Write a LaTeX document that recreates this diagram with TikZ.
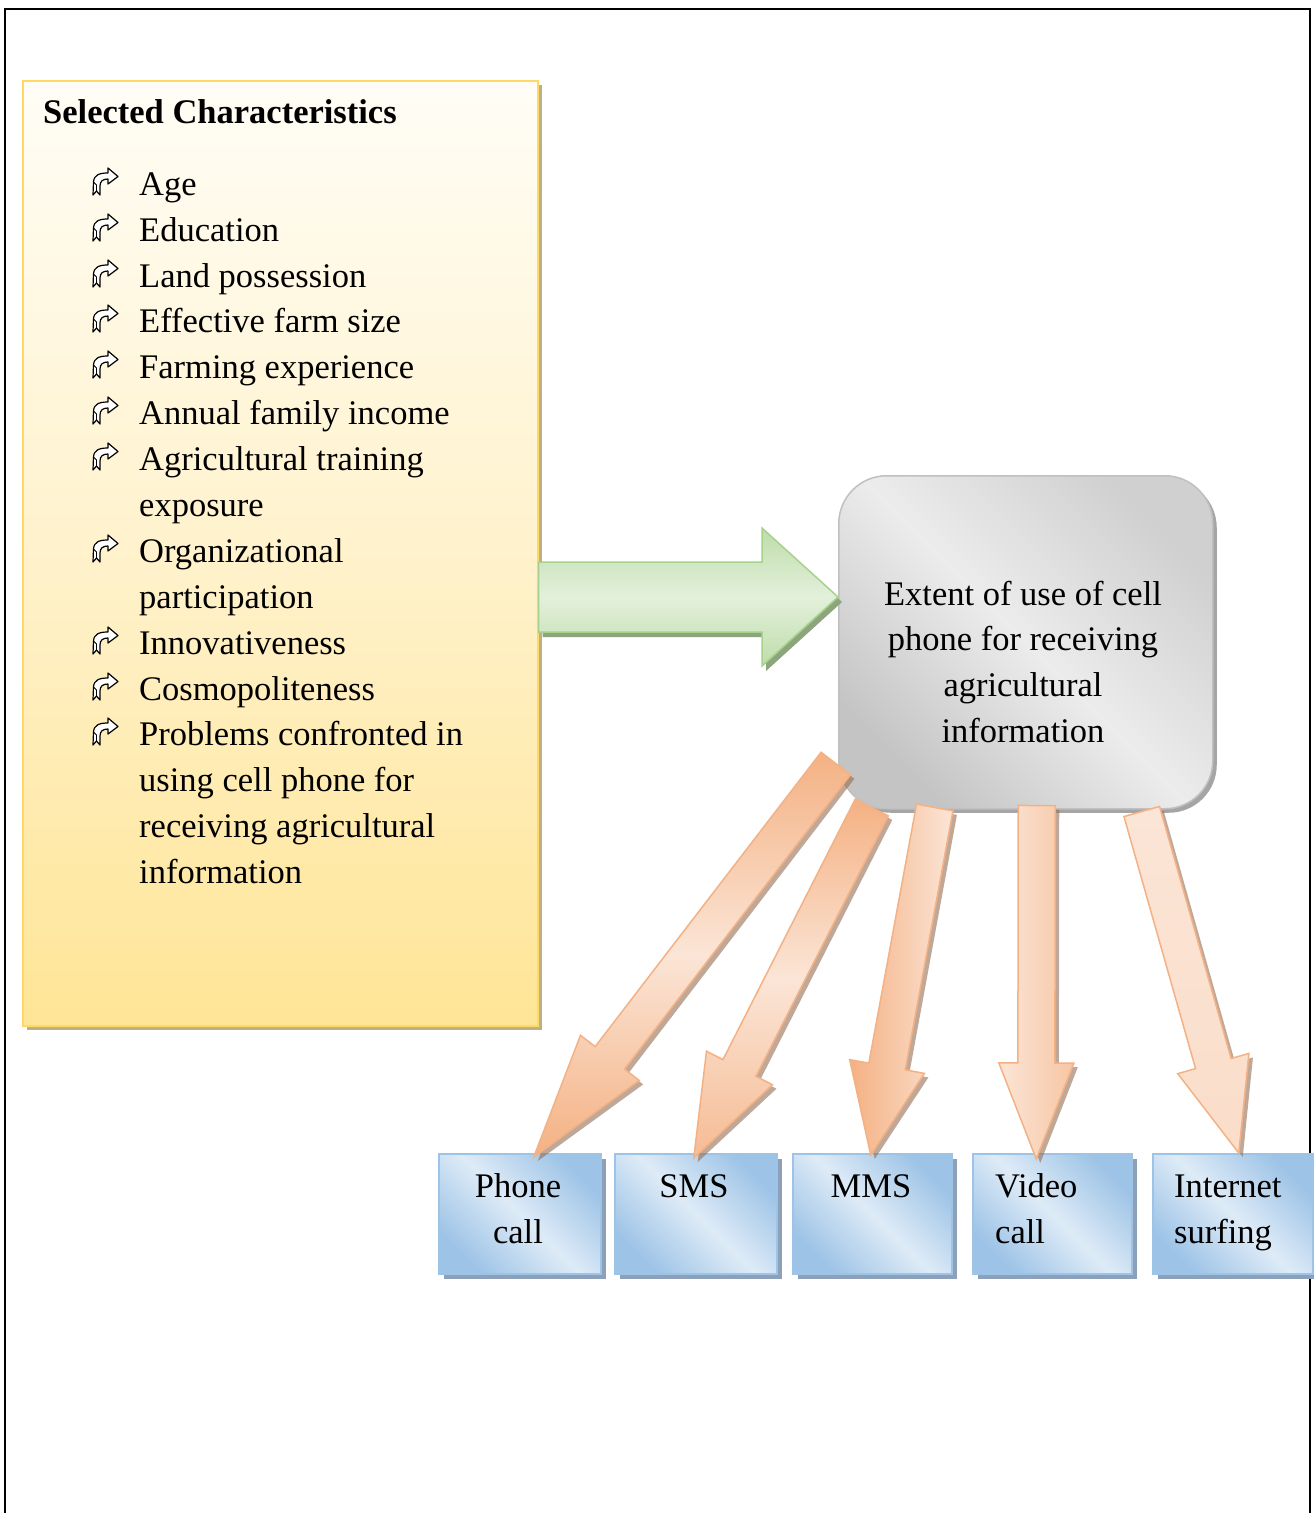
\documentclass[tikz,border=0pt]{standalone}
\usepackage{fontspec}
\setmainfont{Liberation Serif}
\usetikzlibrary{calc,shadows}
\definecolor{ylw}{RGB}{255,229,150}
\definecolor{ylwmid}{RGB}{255,242,204}
\definecolor{ylwtop}{RGB}{255,253,246}
\definecolor{ylwbd}{RGB}{255,217,102}
\definecolor{ylwsh}{RGB}{191,176,128}
\definecolor{grn}{RGB}{190,221,170}
\definecolor{grnl}{RGB}{227,240,219}
\definecolor{grnbd}{RGB}{169,209,142}
\definecolor{grnsh}{RGB}{140,165,125}
\definecolor{gry1}{RGB}{196,196,196}
\definecolor{gry2}{RGB}{236,236,236}
\definecolor{gry3}{RGB}{208,208,208}
\definecolor{grybd}{RGB}{192,192,192}
\definecolor{grysh}{RGB}{165,165,165}
\definecolor{org}{RGB}{244,177,131}
\definecolor{orgl}{RGB}{251,229,214}
\definecolor{orgsh}{RGB}{150,110,85}
\definecolor{blu}{RGB}{157,195,230}
\definecolor{blul}{RGB}{222,235,247}
\definecolor{blush}{RGB}{140,160,185}
\newcommand\fatarrow[6]{%
  \coordinate (hb) at ($(#3)!#4!(#2)$);
  \path[#1] ($(#2)!#5!90:(#3)$) -- ($(hb)!#5!90:(#3)$) -- ($(hb)!#6!90:(#3)$) -- (#3)
    -- ($(hb)!#6!-90:(#3)$) -- ($(hb)!#5!-90:(#3)$) -- ($(#2)!#5!-90:(#3)$) -- cycle;}
\tikzset{
  txt/.style={font=\fontsize{34.5}{46}\selectfont, inner sep=0pt},
  ybox/.style={draw=ylwbd, line width=1.5pt, inner sep=0pt,
    top color=ylwtop, bottom color=ylw, middle color=ylwmid,
    drop shadow={shadow xshift=4pt, shadow yshift=-4pt, fill=ylwsh, opacity=1}},
  gbox/.style={draw=grybd, line width=1.5pt, inner sep=0pt, rounded corners=48pt,
    left color=gry1, right color=gry3, middle color=gry2, shading angle=135,
    drop shadow={shadow xshift=4pt, shadow yshift=-4pt, fill=grysh, opacity=1}},
  bbox/.style={draw=blu, line width=1.5pt, inner sep=0pt,
    left color=blu, right color=blu, middle color=blul, shading angle=135,
    drop shadow={shadow xshift=5pt, shadow yshift=-5pt, fill=blush, opacity=1}},
  garrow/.style={draw=grnbd, line width=1.5pt, line join=miter,
    top color=grn, bottom color=grn, middle color=grnl,
    drop shadow={shadow xshift=4pt, shadow yshift=-5pt, fill=grnsh, opacity=1}},
  oarrow/.style={draw=org, line width=1.5pt, line join=miter,
    drop shadow={shadow xshift=4pt, shadow yshift=-4pt, fill=orgsh, opacity=.6}},
  bul/.pic={\draw[line width=1.2pt, line join=round, fill=white]
    (0,27) -- (0.5,14) .. controls (1,7) and (6,5) .. (15,5) -- (15,0) -- (25,8.5)
    -- (15,16) -- (15,11) .. controls (10,11) and (7,13) .. (7,18) -- (7,27)
    -- (3.5,23) -- cycle;
    \draw[line width=0.9pt] (0.5,14) -- (3.5,17) -- (3.5,23);}
}
\newcommand\itm[4]{%
  \ifnum#4=1 \pic at (93,#2-27) {bul};\fi
  \node[txt, anchor=base west] (#1) at (139,#2) {#3};}
\begin{document}
\begin{tikzpicture}[x=1pt,y=-1pt]
\useasboundingbox (0,0) rectangle (1314,1513);
\fill[white] (0,0) rectangle (1314,1513);
\draw[line width=2.5pt] (5,1513) -- (5,9) -- (1310,9) -- (1310,1513);

% left box
\node[ybox, minimum width=515pt, minimum height=945pt, anchor=north west] (chars) at (22,80) {};
\node[txt, font=\bfseries\fontsize{34.5}{46}\selectfont, anchor=base west] (title) at (43,123) {Selected Characteristics};
\itm{i1}{195}{Age}{1}
\itm{i2}{241}{Education}{1}
\itm{i3}{287}{Land possession}{1}
\itm{i4}{332}{Effective farm size}{1}
\itm{i5}{378}{Farming experience}{1}
\itm{i6}{424}{Annual family income}{1}
\itm{i7}{470}{Agricultural training}{1}
\itm{i7b}{516}{exposure}{0}
\itm{i8}{562}{Organizational}{1}
\itm{i8b}{608}{participation}{0}
\itm{i9}{654}{Innovativeness}{1}
\itm{i10}{700}{Cosmopoliteness}{1}
\itm{i11}{745}{Problems confronted in}{1}
\itm{i11b}{791}{using cell phone for}{0}
\itm{i11c}{837}{receiving agricultural}{0}
\itm{i11d}{883}{information}{0}

% centre box
\node[gbox, minimum width=374pt, minimum height=333pt, anchor=north west] (ext) at (838,475) {};
\node[txt, anchor=base] (e1) at (1023,605) {Extent of use of cell};
\node[txt, anchor=base] (e2) at (1023,650) {phone for receiving};
\node[txt, anchor=base] (e3) at (1023,696) {agricultural};
\node[txt, anchor=base] (e4) at (1023,742) {information};

% green arrow
\coordinate (gs) at ($(chars.north east)+(0,517)$);
\coordinate (gtip) at (ext.west |- gs);
\fatarrow{garrow}{gs}{gtip}{76pt}{35pt}{69pt}

% bottom boxes
\node[bbox, minimum width=162pt, minimum height=120pt, anchor=north west] (phone) at (438,1153) {};
\node[bbox, minimum width=162pt, minimum height=120pt, anchor=north west] (sms) at (614,1153) {};
\node[bbox, minimum width=159pt, minimum height=120pt, anchor=north west] (mms) at (792,1153) {};
\node[bbox, minimum width=159pt, minimum height=120pt, anchor=north west] (video) at (972,1153) {};
\node[bbox, minimum width=160pt, minimum height=120pt, anchor=north west] (inet) at (1152,1153) {};

% orange arrows
\coordinate (t1) at ($(ext.south)+(-190,-46)$);
\coordinate (t2) at ($(ext.south)+(-154,-2)$);
\coordinate (t3) at ($(ext.south)+(-91,-2)$);
\coordinate (t4) at ($(ext.south)+(11,-4)$);
\coordinate (t5) at ($(ext.south)+(116,2)$);
\coordinate (p1) at ($(phone.north)+(14,4)$);
\coordinate (p2) at ($(sms.north)+(-2,5)$);
\coordinate (p3) at ($(mms.north)+(-1.5,2)$);
\coordinate (p4) at ($(video.north)+(-16,6)$);
\coordinate (p5) at ($(inet.north)+(6,0)$);
\fatarrow{oarrow, top color=org, bottom color=org, middle color=orgl}{t1}{p1}{125pt}{18.5pt}{37pt}
\fatarrow{oarrow, top color=org, bottom color=org!80!orgl, middle color=orgl}{t2}{p2}{101pt}{18.5pt}{37pt}
\fatarrow{oarrow, left color=org, right color=orgl}{t3}{p3}{90pt}{18.5pt}{38pt}
\fatarrow{oarrow, left color=orgl, right color=org!60!orgl}{t4}{p4}{96pt}{18.5pt}{37.5pt}
\fatarrow{oarrow, top color=orgl, bottom color=orgl!85!org}{t5}{p5}{93pt}{18.5pt}{37pt}

% bottom labels
\node[txt, anchor=base] (phone1) at (518,1197) {Phone};
\node[txt, anchor=base] (phone2) at (518,1243) {call};
\node[txt, anchor=base] (smsl) at (694,1197) {SMS};
\node[txt, anchor=base] (mmsl) at (871,1197) {MMS};
\node[txt, anchor=base west] (vid1) at (995,1197) {Video};
\node[txt, anchor=base west] (vid2) at (995,1243) {call};
\node[txt, anchor=base west] (int1) at (1174,1197) {Internet};
\node[txt, anchor=base west] (int2) at (1174,1243) {surfing};
\end{tikzpicture}
\end{document}
